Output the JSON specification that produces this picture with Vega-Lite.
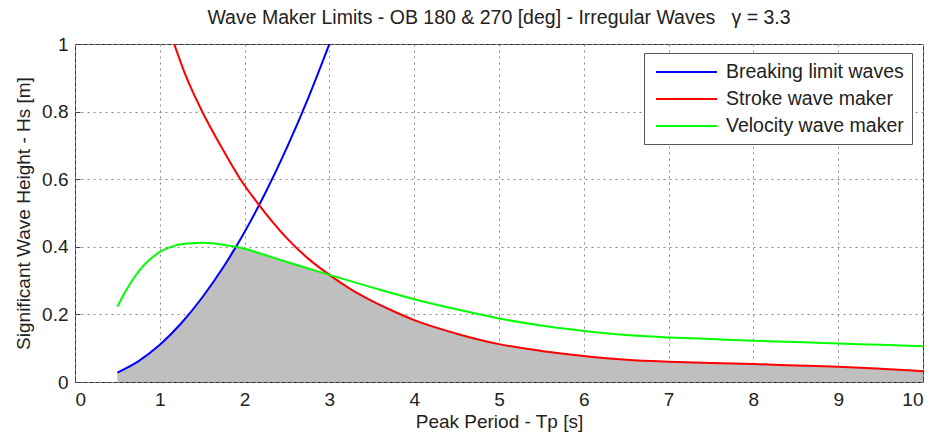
{
  "$schema": "https://vega.github.io/schema/vega-lite/v6.json",
  "width": 848,
  "height": 338,
  "autosize": {"type": "none"},
  "padding": {"left": 75, "top": 44, "right": 15, "bottom": 54},
  "background": "white",
  "title": {
    "text": "Wave Maker Limits - OB 180 & 270 [deg] - Irregular Waves \u00a0 γ = 3.3",
    "font": "Liberation Sans",
    "fontSize": 19.5,
    "fontWeight": "normal",
    "color": "#222",
    "anchor": "middle",
    "offset": 7
  },
  "datasets": {
    "curves": [
      {"T": 0.5, "H": 0.028, "series": "Breaking limit waves"},
      {"T": 0.75, "H": 0.062, "series": "Breaking limit waves"},
      {"T": 1.0, "H": 0.11, "series": "Breaking limit waves"},
      {"T": 1.25, "H": 0.173, "series": "Breaking limit waves"},
      {"T": 1.5, "H": 0.25, "series": "Breaking limit waves"},
      {"T": 1.75, "H": 0.34, "series": "Breaking limit waves"},
      {"T": 2.0, "H": 0.444, "series": "Breaking limit waves"},
      {"T": 2.25, "H": 0.562, "series": "Breaking limit waves"},
      {"T": 2.5, "H": 0.694, "series": "Breaking limit waves"},
      {"T": 2.75, "H": 0.84, "series": "Breaking limit waves"},
      {"T": 3.0, "H": 1.0, "series": "Breaking limit waves"},
      {"T": 1.17, "H": 1.0, "series": "Stroke wave maker"},
      {"T": 1.3, "H": 0.91, "series": "Stroke wave maker"},
      {"T": 1.51, "H": 0.795, "series": "Stroke wave maker"},
      {"T": 1.75, "H": 0.685, "series": "Stroke wave maker"},
      {"T": 1.95, "H": 0.6, "series": "Stroke wave maker"},
      {"T": 2.16, "H": 0.527, "series": "Stroke wave maker"},
      {"T": 2.5, "H": 0.425, "series": "Stroke wave maker"},
      {"T": 2.75, "H": 0.365, "series": "Stroke wave maker"},
      {"T": 3.0, "H": 0.317, "series": "Stroke wave maker"},
      {"T": 3.25, "H": 0.275, "series": "Stroke wave maker"},
      {"T": 3.5, "H": 0.24, "series": "Stroke wave maker"},
      {"T": 3.75, "H": 0.21, "series": "Stroke wave maker"},
      {"T": 4.0, "H": 0.183, "series": "Stroke wave maker"},
      {"T": 4.5, "H": 0.143, "series": "Stroke wave maker"},
      {"T": 5.0, "H": 0.112, "series": "Stroke wave maker"},
      {"T": 5.5, "H": 0.092, "series": "Stroke wave maker"},
      {"T": 6.0, "H": 0.077, "series": "Stroke wave maker"},
      {"T": 6.5, "H": 0.066, "series": "Stroke wave maker"},
      {"T": 7.0, "H": 0.06, "series": "Stroke wave maker"},
      {"T": 7.5, "H": 0.056, "series": "Stroke wave maker"},
      {"T": 8.0, "H": 0.053, "series": "Stroke wave maker"},
      {"T": 8.5, "H": 0.049, "series": "Stroke wave maker"},
      {"T": 9.0, "H": 0.045, "series": "Stroke wave maker"},
      {"T": 9.5, "H": 0.039, "series": "Stroke wave maker"},
      {"T": 10.0, "H": 0.032, "series": "Stroke wave maker"},
      {"T": 0.5, "H": 0.223, "series": "Velocity wave maker"},
      {"T": 0.6, "H": 0.27, "series": "Velocity wave maker"},
      {"T": 0.7, "H": 0.31, "series": "Velocity wave maker"},
      {"T": 0.8, "H": 0.342, "series": "Velocity wave maker"},
      {"T": 0.9, "H": 0.366, "series": "Velocity wave maker"},
      {"T": 1.0, "H": 0.385, "series": "Velocity wave maker"},
      {"T": 1.1, "H": 0.397, "series": "Velocity wave maker"},
      {"T": 1.2, "H": 0.405, "series": "Velocity wave maker"},
      {"T": 1.35, "H": 0.41, "series": "Velocity wave maker"},
      {"T": 1.5, "H": 0.412, "series": "Velocity wave maker"},
      {"T": 1.65, "H": 0.41, "series": "Velocity wave maker"},
      {"T": 1.8, "H": 0.404, "series": "Velocity wave maker"},
      {"T": 1.9, "H": 0.4, "series": "Velocity wave maker"},
      {"T": 2.0, "H": 0.394, "series": "Velocity wave maker"},
      {"T": 2.25, "H": 0.375, "series": "Velocity wave maker"},
      {"T": 2.5, "H": 0.355, "series": "Velocity wave maker"},
      {"T": 2.75, "H": 0.336, "series": "Velocity wave maker"},
      {"T": 3.0, "H": 0.317, "series": "Velocity wave maker"},
      {"T": 3.5, "H": 0.28, "series": "Velocity wave maker"},
      {"T": 4.0, "H": 0.245, "series": "Velocity wave maker"},
      {"T": 4.5, "H": 0.215, "series": "Velocity wave maker"},
      {"T": 5.0, "H": 0.188, "series": "Velocity wave maker"},
      {"T": 5.5, "H": 0.167, "series": "Velocity wave maker"},
      {"T": 6.0, "H": 0.151, "series": "Velocity wave maker"},
      {"T": 6.5, "H": 0.139, "series": "Velocity wave maker"},
      {"T": 7.0, "H": 0.132, "series": "Velocity wave maker"},
      {"T": 7.5, "H": 0.127, "series": "Velocity wave maker"},
      {"T": 8.0, "H": 0.122, "series": "Velocity wave maker"},
      {"T": 8.5, "H": 0.118, "series": "Velocity wave maker"},
      {"T": 9.0, "H": 0.114, "series": "Velocity wave maker"},
      {"T": 9.5, "H": 0.11, "series": "Velocity wave maker"},
      {"T": 10.0, "H": 0.106, "series": "Velocity wave maker"}
    ],
    "envelope": [
      {"T": 0.5, "H": 0.028},
      {"T": 0.75, "H": 0.062},
      {"T": 1.0, "H": 0.11},
      {"T": 1.25, "H": 0.173},
      {"T": 1.5, "H": 0.25},
      {"T": 1.75, "H": 0.34},
      {"T": 1.9, "H": 0.4},
      {"T": 2.0, "H": 0.394},
      {"T": 2.25, "H": 0.375},
      {"T": 2.5, "H": 0.355},
      {"T": 2.75, "H": 0.336},
      {"T": 3.0, "H": 0.317},
      {"T": 3.25, "H": 0.275},
      {"T": 3.5, "H": 0.24},
      {"T": 3.75, "H": 0.21},
      {"T": 4.0, "H": 0.183},
      {"T": 4.5, "H": 0.143},
      {"T": 5.0, "H": 0.112},
      {"T": 5.5, "H": 0.092},
      {"T": 6.0, "H": 0.077},
      {"T": 6.5, "H": 0.066},
      {"T": 7.0, "H": 0.06},
      {"T": 7.5, "H": 0.056},
      {"T": 8.0, "H": 0.053},
      {"T": 8.5, "H": 0.049},
      {"T": 9.0, "H": 0.045},
      {"T": 9.5, "H": 0.039},
      {"T": 10.0, "H": 0.032}
    ]
  },
  "layer": [
    {
      "data": {"name": "envelope"},
      "mark": {"type": "area", "color": "#bfbfbf", "opacity": 1, "interpolate": "monotone"},
      "encoding": {
        "x": {"field": "T", "type": "quantitative"},
        "y": {"field": "H", "type": "quantitative"}
      }
    },
    {
      "data": {"name": "curves"},
      "mark": {"type": "line", "strokeWidth": 2, "interpolate": "monotone"},
      "encoding": {
        "x": {"field": "T", "type": "quantitative"},
        "y": {"field": "H", "type": "quantitative"},
        "color": {
          "field": "series",
          "type": "nominal",
          "scale": {
            "domain": ["Breaking limit waves", "Stroke wave maker", "Velocity wave maker"],
            "range": ["#0000ff", "#ff0000", "#00ff00"]
          },
          "legend": {
            "title": null,
            "orient": "none",
            "legendX": 569,
            "legendY": 9,
            "direction": "vertical",
            "strokeColor": "#555",
            "fillColor": "white",
            "padding": 8,
            "symbolType": "M-0.7,0H5.4",
            "symbolSize": 400,
            "symbolStrokeWidth": 2,
            "labelFont": "Liberation Sans",
            "labelFontSize": 19.5,
            "labelColor": "#222",
            "labelOffset": 52,
            "labelLimit": 400,
            "rowPadding": 6
          }
        }
      }
    }
  ],
  "encoding": {
    "x": {
      "field": "T",
      "type": "quantitative",
      "scale": {"domain": [0, 10], "nice": false},
      "axis": {
        "title": "Peak Period - Tp [s]",
        "values": [0, 1, 2, 3, 4, 5, 6, 7, 8, 9, 10],
        "format": "d",
        "titlePadding": 3,
        "labelPadding": 13,
        "tickSize": -5
      }
    },
    "y": {
      "field": "H",
      "type": "quantitative",
      "scale": {"domain": [0, 1], "nice": false},
      "axis": {
        "title": "Significant Wave Height - Hs [m]",
        "values": [0, 0.2, 0.4, 0.6, 0.8, 1],
        "format": ".1~f",
        "titlePadding": 8,
        "labelPadding": 12,
        "tickSize": -5
      }
    }
  },
  "config": {
    "view": {"stroke": "#333", "strokeWidth": 1},
    "axis": {
      "labelFont": "Liberation Sans",
      "labelFontSize": 19,
      "labelColor": "#222",
      "titleFont": "Liberation Sans",
      "titleFontSize": 19,
      "titleFontWeight": "normal",
      "titleColor": "#222",
      "grid": true,
      "gridColor": "#888",
      "gridDash": [2, 4],
      "gridWidth": 1,
      "domain": false,
      "ticks": true,
      "tickColor": "#444",
      "zindex": 1
    }
  }
}
